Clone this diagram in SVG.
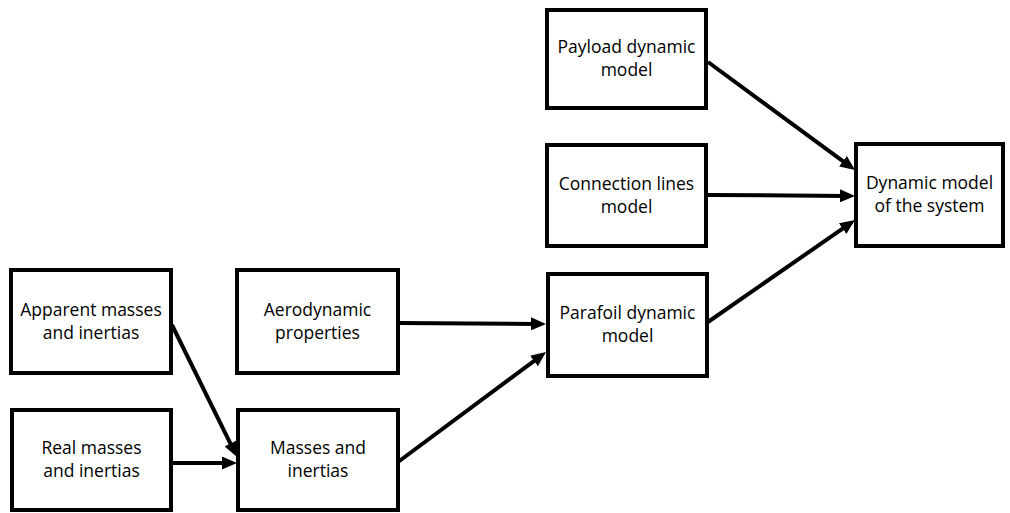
<svg xmlns="http://www.w3.org/2000/svg" width="1010" height="513" viewBox="0 0 1010 513">
<style>
.box{fill:#fff;stroke:#000;stroke-width:4}
.lbl{font-family:"Open Sans","Liberation Sans",sans-serif;font-size:17.5px;fill:#000;text-anchor:middle}
.arr{stroke:#000;stroke-width:4;fill:none;marker-end:url(#ah)}
</style>
<defs>
<marker id="ah" markerUnits="userSpaceOnUse" markerWidth="15" markerHeight="13" refX="7" refY="6.5" orient="auto">
<path d="M0,0 L15,6.5 L0,13 z" fill="#000"/>
</marker>
</defs>
<rect width="1010" height="513" fill="#fff"/>
<g id="payload"><rect class="box" x="547" y="10" width="159" height="98"/><text class="lbl" x="626.5" y="53">Payload dynamic</text><text class="lbl" x="626.5" y="76">model</text></g>
<g id="connection"><rect class="box" x="547" y="145" width="159" height="101"/><text class="lbl" x="626.5" y="189.5">Connection lines</text><text class="lbl" x="626.5" y="212.5">model</text></g>
<g id="system"><rect class="box" x="856" y="144" width="147" height="102"/><text class="lbl" x="929.5" y="189">Dynamic model</text><text class="lbl" x="929.5" y="212">of the system</text></g>
<g id="parafoil"><rect class="box" x="548" y="274" width="159" height="102"/><text class="lbl" x="627.5" y="319">Parafoil dynamic</text><text class="lbl" x="627.5" y="342">model</text></g>
<g id="apparent"><rect class="box" x="11" y="270" width="160" height="103"/><text class="lbl" x="91" y="315.5">Apparent masses</text><text class="lbl" x="91" y="338.5">and inertias</text></g>
<g id="aero"><rect class="box" x="237" y="270" width="161" height="103"/><text class="lbl" x="317.5" y="315.5">Aerodynamic</text><text class="lbl" x="317.5" y="338.5">properties</text></g>
<g id="real"><rect class="box" x="12" y="410" width="159" height="100"/><text class="lbl" x="91.5" y="454">Real masses</text><text class="lbl" x="91.5" y="477">and inertias</text></g>
<g id="masses"><rect class="box" x="238" y="410" width="160" height="100"/><text class="lbl" x="318" y="454">Masses and</text><text class="lbl" x="318" y="477">inertias</text></g>
<g id="connectors">
<line class="arr" x1="708" y1="62" x2="848.6" y2="165.3"/>
<line class="arr" x1="708" y1="195" x2="847" y2="195.9"/>
<line class="arr" x1="708" y1="322" x2="848.4" y2="224.6"/>
<line class="arr" x1="398" y1="323" x2="538" y2="323.9"/>
<line class="arr" x1="398" y1="462" x2="539.6" y2="356.8"/>
<line class="arr" x1="172" y1="325" x2="233.5" y2="449.8"/>
<line class="arr" x1="172" y1="463" x2="229" y2="463"/>
</g>
</svg>
